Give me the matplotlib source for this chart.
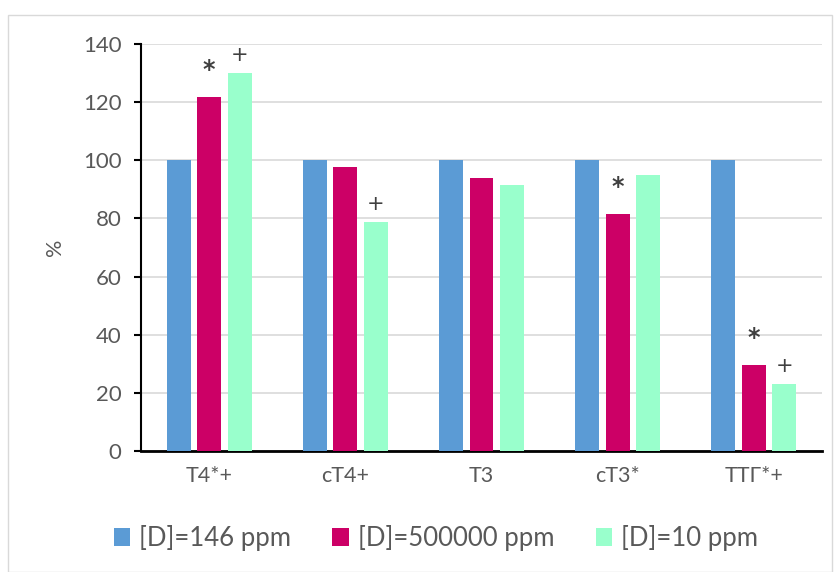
import matplotlib
matplotlib.use("Agg")
import matplotlib.pyplot as plt
from matplotlib.patches import Rectangle
import numpy as np

categories = ["Т4*+", "сТ4+", "Т3", "сТ3*", "ТТГ*+"]
series_names = ["[D]=146 ppm", "[D]=500000 ppm", "[D]=10 ppm"]
d146 = [100, 100, 100, 100, 100]
d500000 = [121.7, 97.6, 93.9, 81.4, 29.6]
d10 = [130.0, 78.8, 91.4, 94.9, 22.9]
star_marks = ["*", "", "", "*", "*"]   # above the 500000 ppm bar
plus_marks = ["+", "+", "", "", "+"]   # above the 10 ppm bar
colors = ["#5B9BD5", "#CC0066", "#99FFCC"]

plt.rcParams['font.family'] = ['Lato', 'DejaVu Sans']

fig = plt.figure(figsize=(8.4, 5.72), dpi=100)
ax = fig.add_axes([141/840, 1-451/572, (822-141)/840, (451-44)/572])

x = np.arange(len(categories))
w = 0.176
off = 0.224
series = [d146, d500000, d10]
for i, (vals, name, c) in enumerate(zip(series, series_names, colors)):
    ax.bar(x + (i-1)*off, vals, width=w, color=c, label=name, zorder=3)

for xi, v, m in zip(x, d500000, star_marks):
    if m:
        ax.annotate(m, (xi, v), xytext=(0, 11), textcoords='offset points',
                    ha='center', va='bottom', fontsize=17, fontweight='bold',
                    color='#404040', family='DejaVu Sans')
for xi, v, m in zip(x, d10, plus_marks):
    if m:
        ax.annotate(m, (xi + off, v), xytext=(0, 6), textcoords='offset points',
                    ha='center', va='bottom', fontsize=15,
                    color='#404040', family='DejaVu Sans')

ax.set_xlim(-0.5, len(categories)-0.5)
ax.set_ylim(0, 140)
ax.set_yticks(np.arange(0, 141, 20))
ax.grid(axis='y', color='#D9D9D9', linewidth=1.2, zorder=0)
ax.set_xticks(x)
ax.set_xticklabels(categories)
ax.tick_params(axis='x', length=0, pad=11, labelsize=15.5, labelcolor='#595959')
ax.tick_params(axis='y', direction='out', length=5, width=1.5, color='black',
               labelsize=16, labelcolor='#595959', pad=9)
for s in ['top', 'right']:
    ax.spines[s].set_visible(False)
ax.spines['left'].set_color('black')
ax.spines['left'].set_linewidth(1.5)
ax.spines['bottom'].set_color('black')
ax.spines['bottom'].set_linewidth(2)
ax.set_ylabel('%', fontsize=15.5, color='#595959', labelpad=13)

leg = fig.legend(loc='center', bbox_to_anchor=(436/840, 1-538/572), ncol=3, frameon=False,
                 fontsize=18.5, handlelength=0.65, handleheight=0.65, handletextpad=0.35,
                 columnspacing=1.6, labelcolor='#595959')

fig.patches.append(Rectangle((8/840, 0.5/572), (832-8)/840, (572-14-1)/572,
                             transform=fig.transFigure, fill=False,
                             edgecolor='#D9D9D9', linewidth=1))

fig.savefig('out.png', dpi=100, facecolor='white')
